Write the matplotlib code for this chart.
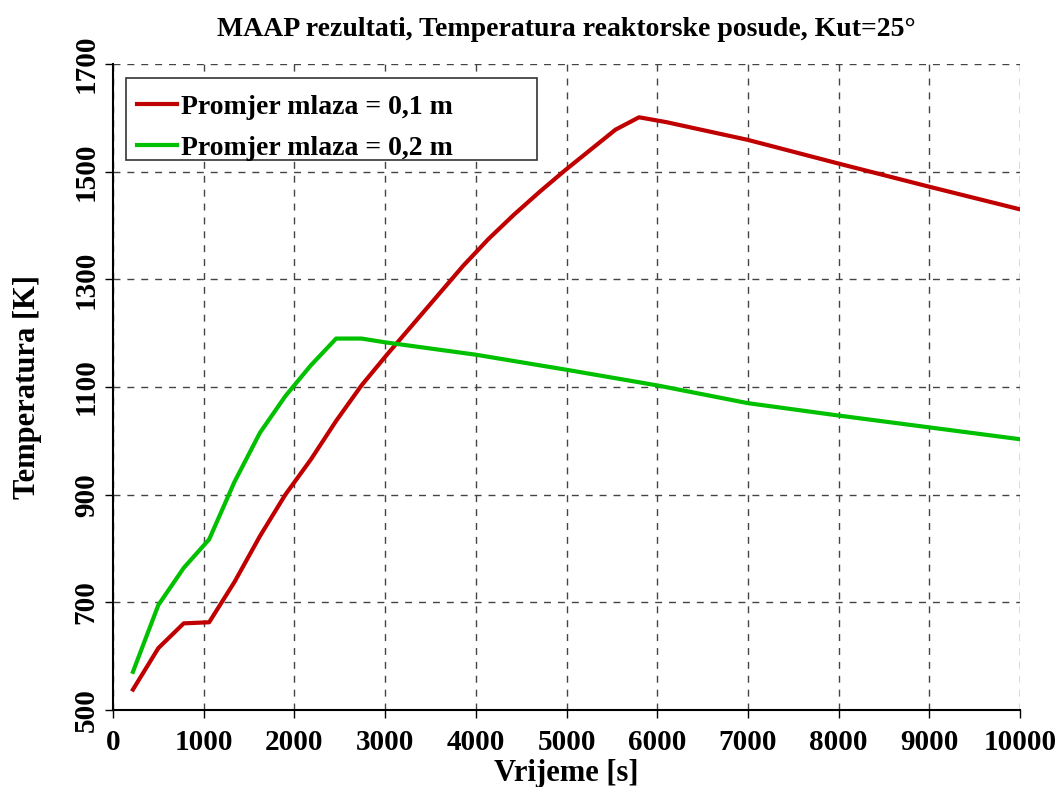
import matplotlib
matplotlib.use("Agg")
import matplotlib.pyplot as plt
from matplotlib.patches import Rectangle

time_red = [220, 500, 780, 1060, 1340, 1620, 1900, 2180, 2460, 2740, 3020, 3300, 3580,
            3860, 4140, 4420, 4700, 4980, 5260, 5540, 5800, 6100, 7000, 8000, 9000, 10000]
temp_red = [538, 615, 661, 663, 738, 823, 900, 965, 1037, 1103, 1160, 1215, 1270,
            1325, 1375, 1420, 1462, 1502, 1540, 1578, 1601, 1592, 1559, 1515, 1472, 1430]

time_green = [220, 500, 780, 1060, 1340, 1620, 1900, 2180, 2460, 2740, 3000, 4000,
              5000, 6000, 7000, 8000, 9000, 10000]
temp_green = [571, 695, 764, 817, 924, 1015, 1083, 1140, 1190, 1190, 1183, 1160,
              1132, 1103, 1070, 1047, 1025, 1003]

labels = ["Promjer mlaza = 0,1 m", "Promjer mlaza = 0,2 m"]
title = "MAAP rezultati, Temperatura reaktorske posude, Kut=25°"
xticks = [0, 1000, 2000, 3000, 4000, 5000, 6000, 7000, 8000, 9000, 10000]
yticks = [500, 700, 900, 1100, 1300, 1500, 1700]

plt.rcParams['font.family'] = ['Liberation Serif', 'DejaVu Serif']
plt.rcParams['font.weight'] = 'bold'

fig = plt.figure(figsize=(10.58, 7.87), dpi=100)
ax = fig.add_axes([0.1068, 0.0978, 0.9641 - 0.1068, 0.9187 - 0.0978])

ax.plot(time_red, temp_red, color='#C00000', lw=3, label=labels[0], zorder=3)
ax.plot(time_green, temp_green, color='#00C000', lw=3, label=labels[1], zorder=3)

ax.set_xlim(0, 10000)
ax.set_ylim(500, 1700)
ax.set_xticks(xticks)
ax.set_yticks(yticks)
ax.grid(True, linestyle=(0, (5, 5)), color='#444444', lw=1.0)
ax.spines['top'].set_visible(False)
ax.spines['right'].set_visible(False)
ax.spines['left'].set_linewidth(1.5)
ax.spines['bottom'].set_linewidth(1.5)
ax.tick_params(axis='both', direction='out', length=6, width=1, labelsize=21)
ax.tick_params(axis='x', pad=8)
for lab in ax.get_yticklabels():
    lab.set_rotation(90)
    lab.set_va('center')
for lab in ax.get_xticklabels() + ax.get_yticklabels():
    lab.set_fontweight('bold')

ax.set_xlabel("Vrijeme [s]", fontsize=22, fontweight='bold', labelpad=2)
ax.set_ylabel("Temperatura [K]", fontsize=22, fontweight='bold', labelpad=22)
ax.set_title(title, fontsize=20, fontweight='bold', pad=20)

# legend frame
ax.add_patch(Rectangle((0.0143, 0.851), 0.4675 - 0.0143, 0.978 - 0.851,
                       transform=ax.transAxes, facecolor='white', edgecolor='#333333',
                       lw=1.2, zorder=4))
leg = ax.legend(loc='upper left', bbox_to_anchor=(0.0265, 0.953), fontsize=20,
                frameon=False, handlelength=1.45, handletextpad=0.15, borderpad=0.0,
                labelspacing=0.55, borderaxespad=0.0)
leg.set_zorder(5)
for t in leg.get_texts():
    t.set_fontweight('bold')

fig.savefig("out.png", dpi=100)
